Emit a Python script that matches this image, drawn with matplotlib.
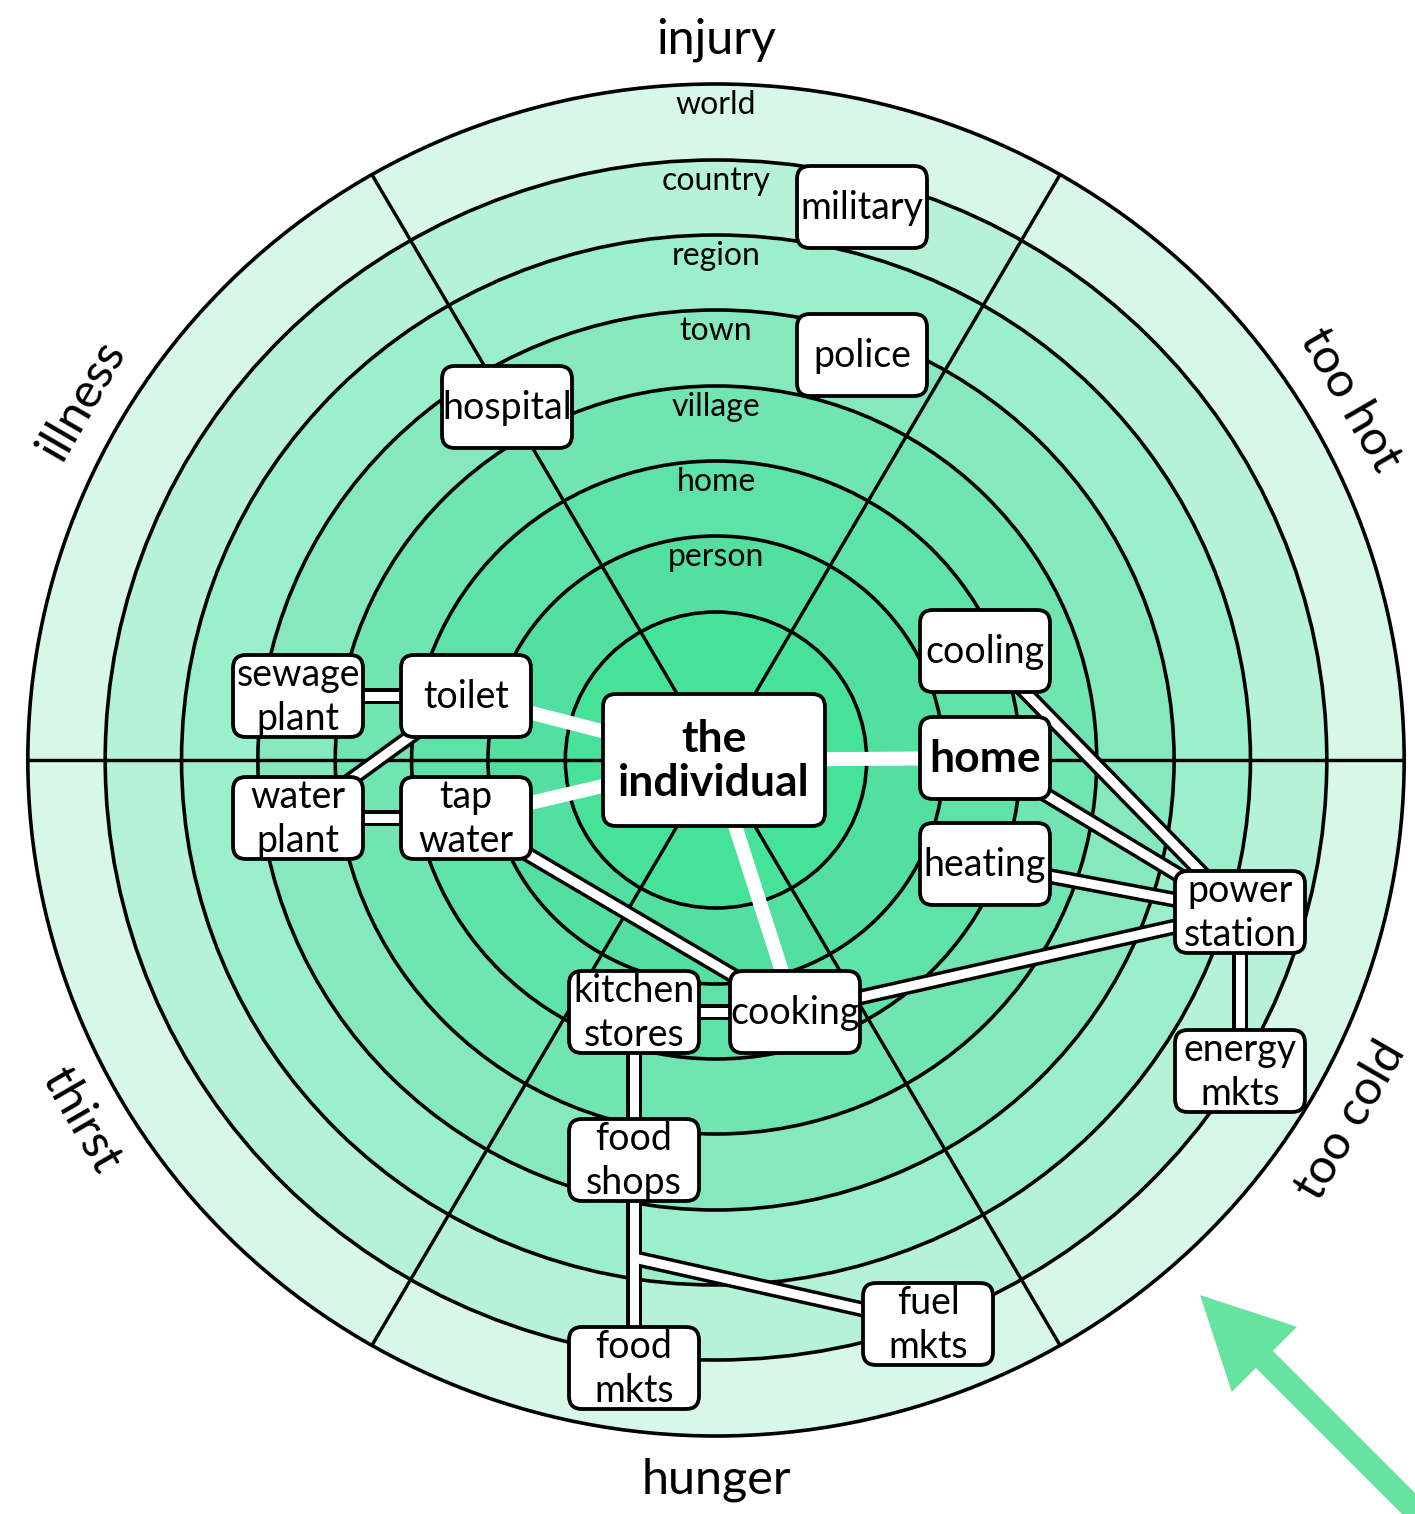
import matplotlib
import matplotlib.pyplot as plt
from matplotlib.patches import Ellipse, FancyBboxPatch, FancyArrow
import numpy as np

plt.rcParams['font.family'] = ['Lato', 'DejaVu Sans']

# --- data ---------------------------------------------------------------
ring_names = ['world', 'country', 'region', 'town', 'village', 'home', 'person']
ring_radius = [676, 600, 525, 450, 374, 299, 224, 148]
ring_colors = ['#d7f7e9', '#b5f2d7', '#9befca', '#86e9bd',
               '#70e5b1', '#5fe2a7', '#53dfa0', '#46e29a']

sector_names = ['injury', 'too hot', 'too cold', 'hunger', 'thirst', 'illness']
sector_angles = [90, 30, -30, 270, 210, 150]
spoke_angles = [0, 60, 120, 180, 240, 300]

node_names = ['military', 'police', 'hospital', 'sewage\nplant', 'toilet',
              'water\nplant', 'tap\nwater', 'the\nindividual', 'cooling',
              'home', 'heating', 'power\nstation', 'energy\nmkts',
              'kitchen\nstores', 'cooking', 'food\nshops', 'food\nmkts',
              'fuel\nmkts']
node_x = [862, 862, 507, 298, 466, 298, 466, 714, 985, 985, 985, 1240, 1240,
          634, 795, 634, 634, 928]
node_y = [207, 355, 407, 696, 696, 818, 818, 760, 651, 758, 864, 912, 1071,
          1012, 1012, 1160, 1368, 1324]
bold_nodes = ['the\nindividual', 'home']

# junction on the food shops -> food mkts link where fuel mkts joins
junction = {'junction': (634, 1258)}

# direct links from the individual (plain white)
direct_links = [('the\nindividual', 'toilet'), ('the\nindividual', 'tap\nwater'),
                ('the\nindividual', 'home'), ('the\nindividual', 'cooking')]
# supply links (outlined)
supply_links = [('sewage\nplant', 'toilet'), ('water\nplant', 'toilet'),
                ('water\nplant', 'tap\nwater'), ('tap\nwater', 'cooking'),
                ('kitchen\nstores', 'cooking'), ('cooling', 'power\nstation'),
                ('home', 'power\nstation'), ('heating', 'power\nstation'),
                ('cooking', 'power\nstation'), ('power\nstation', 'energy\nmkts'),
                ('kitchen\nstores', 'food\nshops'), ('food\nshops', 'food\nmkts'),
                ('junction', 'fuel\nmkts')]

# --- layout --------------------------------------------------------------
W, H = 1415, 1514
cx, cy = 716, 760
sx = 1.018  # horizontal stretch of the rings
px = 0.72   # points per pixel at dpi 100

pos = {n: (x, y) for n, x, y in zip(node_names, node_x, node_y)}
pos.update(junction)

fig = plt.figure(figsize=(W / 100, H / 100), dpi=100)
ax = fig.add_axes([0, 0, 1, 1])
ax.set_xlim(0, W)
ax.set_ylim(H, 0)
ax.axis('off')

for r, c in zip(ring_radius, ring_colors):
    ax.add_patch(Ellipse((cx, cy), 2 * r * sx, 2 * r, facecolor=c,
                         edgecolor='black', lw=3.6 * px, zorder=1))

R = ring_radius[0]
for a in spoke_angles:
    t = np.radians(a)
    ax.plot([cx, cx + R * sx * np.cos(t)], [cy, cy - R * np.sin(t)],
            color='black', lw=3.4 * px, zorder=2, solid_capstyle='butt')

for i, name in enumerate(ring_names):
    ax.text(cx, cy - ring_radius[i] + 21, name, ha='center', va='center',
            fontsize=23, zorder=3)

for name, a in zip(sector_names, sector_angles):
    t = np.radians(a)
    rot = a - 90 if np.sin(t) > 0 else a + 90
    rot = (rot + 180) % 360 - 180
    ax.text(cx + 720 * sx * np.cos(t), cy - 720 * np.sin(t), name,
            ha='center', va='center', rotation=rot, rotation_mode='anchor',
            fontsize=35)

# links
for a, b in direct_links:
    ax.plot([pos[a][0], pos[b][0]], [pos[a][1], pos[b][1]], color='white',
            lw=14 * px, zorder=4, solid_capstyle='butt')
for a, b in supply_links:
    ax.plot([pos[a][0], pos[b][0]], [pos[a][1], pos[b][1]], color='black',
            lw=16 * px, zorder=4, solid_capstyle='butt')
for a, b in supply_links:
    ax.plot([pos[a][0], pos[b][0]], [pos[a][1], pos[b][1]], color='white',
            lw=9 * px, zorder=4.1, solid_capstyle='butt')

# boxes
for name in node_names:
    x, y = pos[name]
    if name == 'the\nindividual':
        w, h = 222, 132
    else:
        w, h = 130, 82
    ax.add_patch(FancyBboxPatch((x - w / 2, y - h / 2), w, h,
                                boxstyle='round,pad=0,rounding_size=13',
                                facecolor='white', edgecolor='black',
                                lw=3.8 * px, zorder=5))
    bold = name in bold_nodes
    ax.text(x, y + 1, name, ha='center', va='center', zorder=6,
            fontsize=32 if bold else 27, fontweight='bold' if bold else 'normal',
            linespacing=1.25 if not bold else 1.1)

ax.add_patch(FancyArrow(1420, 1515, -220, -220, width=24, head_width=92,
                        head_length=91, length_includes_head=True,
                        color='#66e39e', lw=0, zorder=3))

fig.savefig('out.png', dpi=100)
